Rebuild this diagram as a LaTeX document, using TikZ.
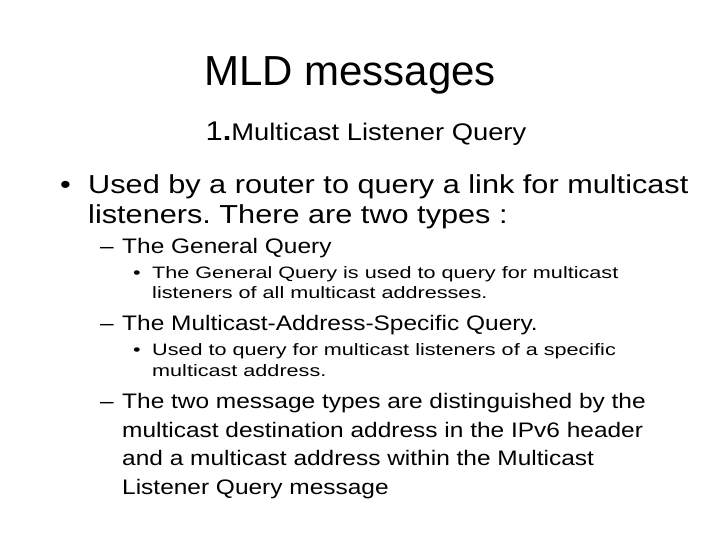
\documentclass[tikz,border=0pt]{standalone}
\usepackage{fontspec}
\setmainfont{Liberation Sans}
\newfontfamily\fa[FakeStretch=1.18]{Liberation Sans}
\newfontfamily\fb[FakeStretch=1.165]{Liberation Sans}
\newfontfamily\fc[FakeStretch=1.31]{Liberation Sans}
\newfontfamily\fs[FakeStretch=1.14]{Liberation Sans}
\frenchspacing
\begin{document}
\begin{tikzpicture}[x=1pt,y=-1pt,
  t/.style={anchor=base west,inner sep=0pt},
  l1/.style={t,font=\fa\fontsize{26}{30}\selectfont},
  l2/.style={t,font=\fb\fontsize{21}{25}\selectfont},
  l3/.style={t,font=\fc\fontsize{16.5}{20}\selectfont}]
\useasboundingbox (0,0) rectangle (728,546);
\node[anchor=base,inner sep=0pt,font=\fontsize{42}{48}\selectfont] (title) at (350,85) {MLD messages};
\node[anchor=base,inner sep=0pt,font=\fs\fontsize{24}{28}\selectfont] (sub) at (366,140) {{\fontsize{27}{30}\selectfont 1\textbf{.}}Multicast Listener Query};
\node[l1] (b1) at (60,193) {•};
\node[l1] (a1) at (88,193) {Used by a router to query a link for multicast};
\node[l1] (a2) at (88,223) {listeners. There are two types :};
\node[l2] (d1) at (100,253) {–};
\node[l2] (c1) at (122,253) {The General Query};
\node[l3] (e1) at (133,278) {•};
\node[l3] (f1) at (152,278) {The General Query is used to query for multicast};
\node[l3] (f2) at (152,298) {listeners of all multicast addresses.};
\node[l2] (d2) at (100,330) {–};
\node[l2] (c2) at (122,330) {The Multicast-Address-Specific Query.};
\node[l3] (e2) at (133,355) {•};
\node[l3] (g1) at (152,355) {Used to query for multicast listeners of a specific};
\node[l3] (g2) at (152,376) {multicast address.};
\node[l2] (d3) at (100,408) {–};
\node[l2] (h1) at (122,408) {The two message types are distinguished by the};
\node[l2] (h2) at (122,437) {multicast destination address in the IPv6 header};
\node[l2] (h3) at (122,465) {and a multicast address within the Multicast};
\node[l2] (h4) at (122,494) {Listener Query message};
\end{tikzpicture}
\end{document}
